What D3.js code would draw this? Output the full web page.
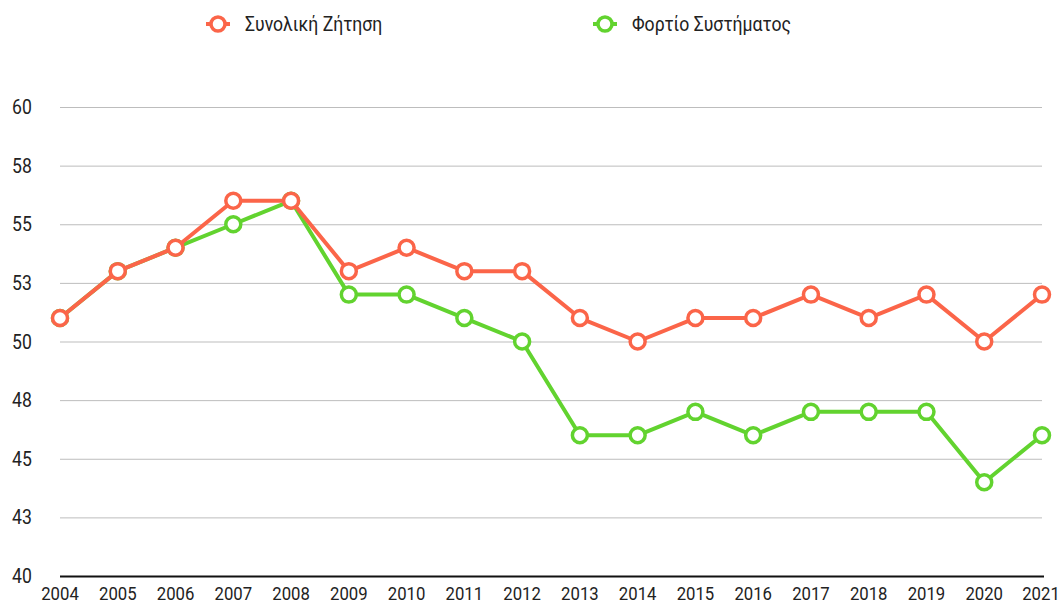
<!DOCTYPE html>
<html>
<head>
<meta charset="utf-8">
<script src="https://cdn.jsdelivr.net/npm/d3@7"></script>
<style>
  body { margin: 0; background: #fff; }
  text { font-family: Roboto, sans-serif; }
</style>
</head>
<body>
<div id="chart"></div>
<script>
// data
var years = [2004, 2005, 2006, 2007, 2008, 2009, 2010, 2011, 2012, 2013, 2014, 2015, 2016, 2017, 2018, 2019, 2020, 2021];
var totalDemand = [51, 53, 54, 56, 56, 53, 54, 53, 53, 51, 50, 51, 51, 52, 51, 52, 50, 52];
var systemLoad = [51, 53, 54, 55, 56, 52, 52, 51, 50, 46, 46, 47, 46, 47, 47, 47, 44, 46];
var yTicks = [40, 42.5, 45, 47.5, 50, 52.5, 55, 57.5, 60];

var series = [
    {name: "Φορτίο Συστήματος", values: systemLoad, color: "#62d32f"},
    {name: "Συνολική Ζήτηση", values: totalDemand, color: "#fb6549"}
];

var W = 1061, H = 605,
    margin = {top: 107, right: 19, bottom: 29, left: 60},
    squeeze = 0.88; // labels look like a condensed face

var svg = d3.select("#chart").append("svg")
    .attr("width", W)
    .attr("height", H);

var x = d3.scalePoint()
    .domain(years)
    .range([margin.left, W - margin.right]);

var y = d3.scaleLinear()
    .domain([40, 60])
    .range([H - margin.bottom, margin.top]);

function place(px, py) {
    return "translate(" + px + "," + py + ") scale(" + squeeze + ",1)";
}

// grid
svg.append("g")
    .selectAll("line")
    .data(yTicks.slice(1))
    .enter().append("line")
    .attr("x1", margin.left)
    .attr("x2", W - margin.right)
    .attr("y1", function (d) { return y(d) + 0.5; })
    .attr("y2", function (d) { return y(d) + 0.5; })
    .attr("stroke", "#bdbdbd")
    .attr("stroke-width", 1);

// y labels
svg.append("g")
    .selectAll("text")
    .data(yTicks)
    .enter().append("text")
    .attr("transform", function (d) { return place(12, y(d)); })
    .attr("dy", "0.35em")
    .attr("font-size", 20)
    .attr("fill", "#222")
    .text(function (d) { return Math.round(d); });

// baseline
svg.append("line")
    .attr("x1", margin.left)
    .attr("x2", W - margin.right + 2)
    .attr("y1", y(40) + 0.5)
    .attr("y2", y(40) + 0.5)
    .attr("stroke", "#111")
    .attr("stroke-width", 2);

// x labels, last one nudged left so it stays on the page
svg.append("g")
    .selectAll("text")
    .data(years)
    .enter().append("text")
    .attr("transform", function (d, i) {
        var px = x(d);
        if (i === years.length - 1) px = Math.min(px, W - 20);
        return place(px, H - 5);
    })
    .attr("text-anchor", "middle")
    .attr("font-size", 19)
    .attr("fill", "#222")
    .text(function (d) { return d; });

var line = d3.line()
    .x(function (d, i) { return x(years[i]); })
    .y(function (d) { return y(d); });

series.forEach(function (s) {
    var g = svg.append("g");
    g.append("path")
        .attr("d", line(s.values))
        .attr("fill", "none")
        .attr("stroke", s.color)
        .attr("stroke-width", 4)
        .attr("stroke-linejoin", "round");
    g.selectAll("circle")
        .data(s.values)
        .enter().append("circle")
        .attr("cx", function (d, i) { return x(years[i]); })
        .attr("cy", function (d) { return y(d); })
        .attr("r", 7.5)
        .attr("fill", "#fff")
        .attr("stroke", s.color)
        .attr("stroke-width", 3.5);
});

// legend
var legend = [
    {name: "Συνολική Ζήτηση", color: "#fb6549", x: 206},
    {name: "Φορτίο Συστήματος", color: "#62d32f", x: 593}
];
var lg = svg.append("g").selectAll("g")
    .data(legend)
    .enter().append("g")
    .attr("transform", function (d) { return "translate(" + d.x + ",24)"; });
lg.append("line")
    .attr("x1", 0).attr("x2", 24)
    .attr("stroke", function (d) { return d.color; })
    .attr("stroke-width", 4);
lg.append("circle")
    .attr("cx", 12)
    .attr("r", 7)
    .attr("fill", "#fff")
    .attr("stroke", function (d) { return d.color; })
    .attr("stroke-width", 3.5);
lg.append("text")
    .attr("transform", place(39, 0))
    .attr("dy", "0.35em")
    .attr("font-size", 20)
    .attr("fill", "#222")
    .text(function (d) { return d.name; });
</script>
</body>
</html>
